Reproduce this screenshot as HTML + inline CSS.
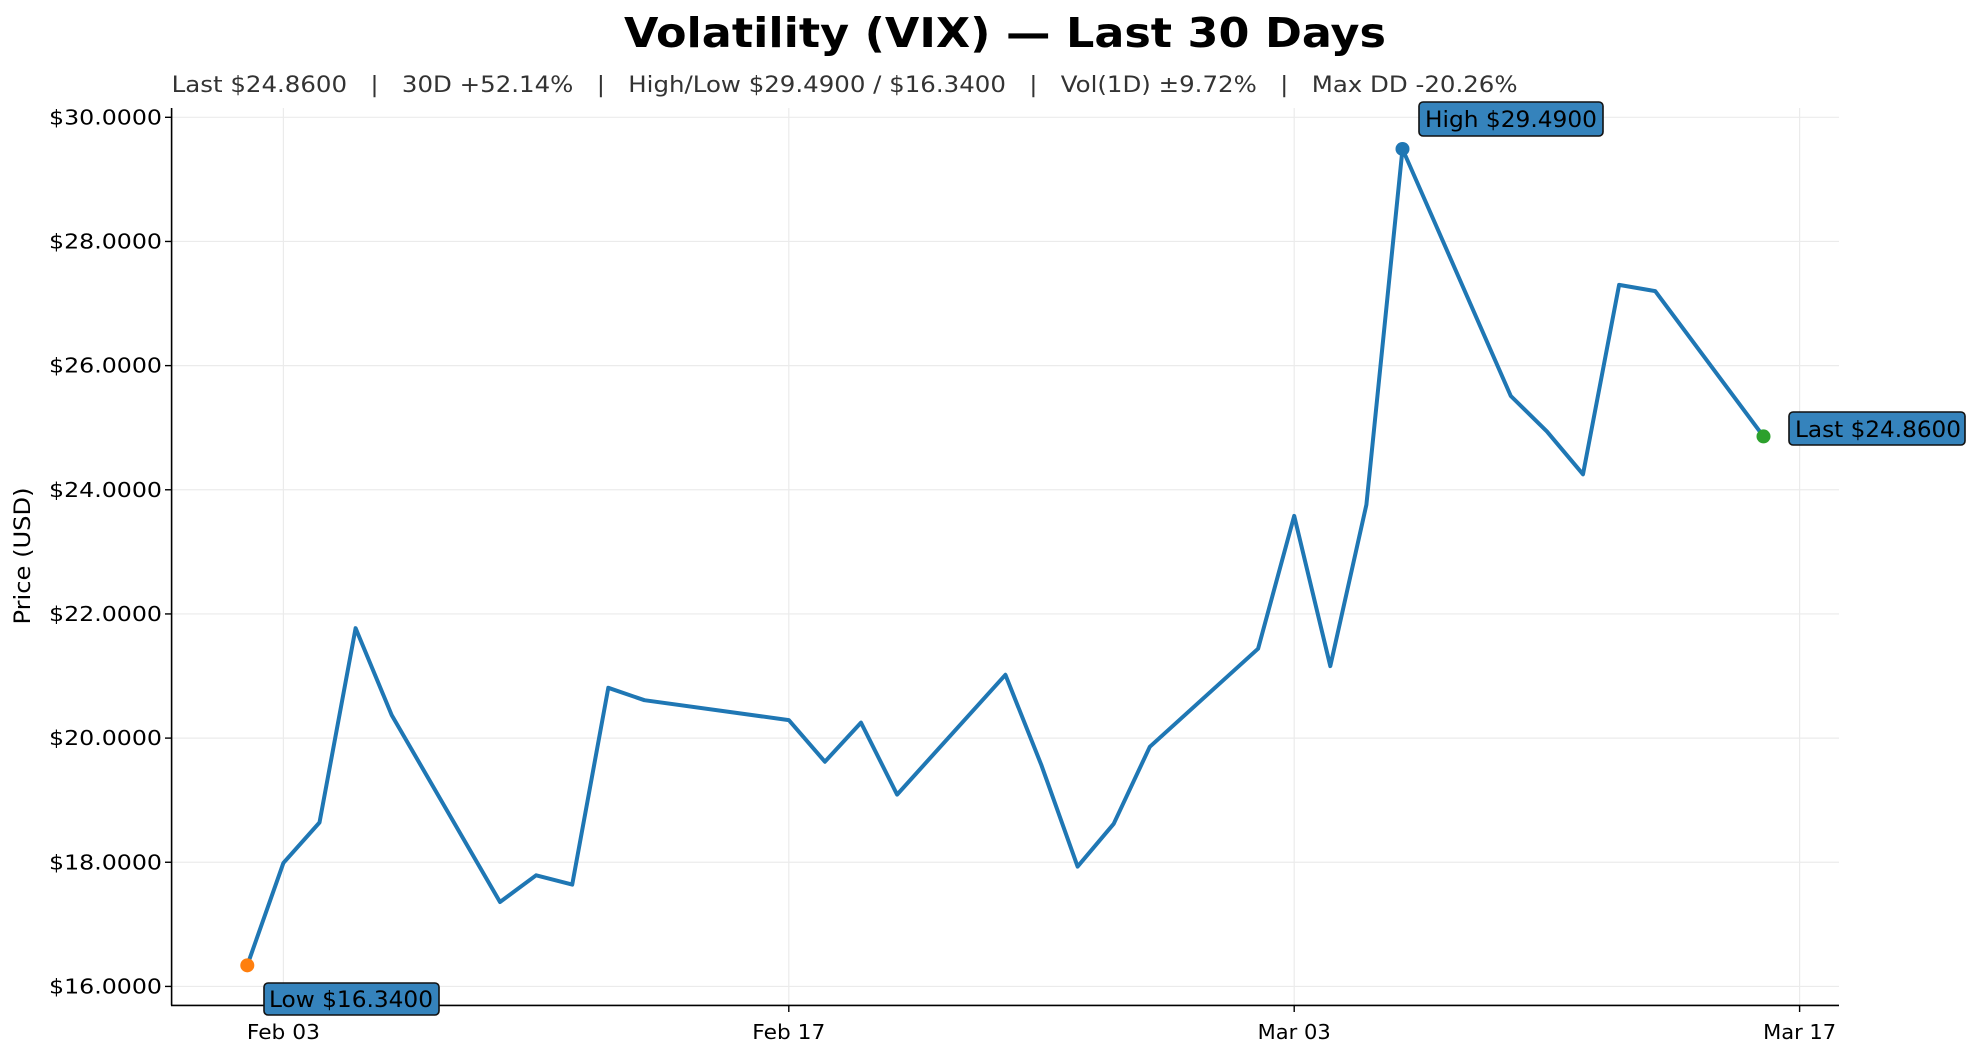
<!DOCTYPE html>
<html><head><meta charset="utf-8"><style>
html,body{margin:0;padding:0;background:#fff;}
svg{display:block;font-family:"DejaVu Sans","Liberation Sans",sans-serif;}
</style></head><body>
<svg id="s" width="1978" height="1059" viewBox="0 0 1978 1059" xmlns="http://www.w3.org/2000/svg">
<text x="1005" y="47" text-anchor="middle" font-size="41" font-weight="bold" fill="#000" textLength="762" lengthAdjust="spacingAndGlyphs">Volatility (VIX) — Last 30 Days</text>
<text x="171.6" y="92" font-size="22" fill="#333" xml:space="preserve" textLength="1346" lengthAdjust="spacingAndGlyphs">Last $24.8600   |   30D +52.14%   |   High/Low $29.4900 / $16.3400   |   Vol(1D) ±9.72%   |   Max DD -20.26%</text>
<g id="grid" stroke="#ebebeb" stroke-width="1.2"></g>
<g id="ticks"></g>
<polyline id="line" fill="none" stroke="#1f77b4" stroke-width="4" stroke-linejoin="round"/>
<line x1="171.6" y1="108" x2="171.6" y2="1005.4" stroke="#000" stroke-width="1.6"/>
<line x1="171" y1="1005.4" x2="1839" y2="1005.4" stroke="#000" stroke-width="1.6"/>
<text transform="translate(30,556) rotate(-90)" text-anchor="middle" font-size="22" fill="#000" textLength="137" lengthAdjust="spacingAndGlyphs">Price (USD)</text>
<g id="marks"></g>
<rect x="1419" y="102" width="184" height="34" rx="4" fill="#3583bc" stroke="#111" stroke-width="1.6"/>
<text x="1425" y="127" font-size="22" textLength="172" lengthAdjust="spacingAndGlyphs">High $29.4900</text>
<rect x="1789" y="412" width="176" height="33" rx="4" fill="#3583bc" stroke="#111" stroke-width="1.6"/>
<text x="1795" y="437" font-size="22" textLength="166" lengthAdjust="spacingAndGlyphs">Last $24.8600</text>
<rect x="264" y="983" width="175" height="32" rx="4" fill="#3583bc" stroke="#111" stroke-width="1.6"/>
<text x="269" y="1007" font-size="22" textLength="164" lengthAdjust="spacingAndGlyphs">Low $16.3400</text>
</svg>
<script>
var NS="http://www.w3.org/2000/svg";
function X(d){return 247.3+d*36.1;}
function Y(v){return 117.3+(30-v)*62.08;}
function el(t,a,p,txt){var e=document.createElementNS(NS,t);for(var k in a)e.setAttribute(k,a[k]);if(txt)e.textContent=txt;document.getElementById(p).appendChild(e);return e;}
for(var v=16;v<=30;v+=2){var y=Y(v);
el("line",{x1:171.6,x2:1839,y1:y,y2:y},"grid");
el("line",{x1:165,x2:171.6,y1:y,y2:y,stroke:"#000","stroke-width":1.4},"ticks");
el("text",{x:162,y:y+7,"text-anchor":"end","font-size":"20",textLength:"113",lengthAdjust:"spacingAndGlyphs"},"ticks","$"+v+".0000");}
var xt=[[1,"Feb 03"],[15,"Feb 17"],[29,"Mar 03"],[43,"Mar 17"]];
xt.forEach(function(t){var x=X(t[0]);
el("line",{x1:x,x2:x,y1:108,y2:1005.4},"grid");
el("line",{x1:x,x2:x,y1:1005.4,y2:1012,stroke:"#000","stroke-width":1.4},"ticks");
el("text",{x:x,y:1039,"text-anchor":"middle","font-size":"20",textLength:"73",lengthAdjust:"spacingAndGlyphs"},"ticks",t[1]);});
var d=[[0,16.34],[1,17.99],[2,18.64],[3,21.77],[4,20.37],[7,17.36],[8,17.79],[9,17.64],[10,20.81],[11,20.61],[15,20.29],[16,19.62],[17,20.25],[18,19.09],[21,21.02],[22,19.56],[23,17.93],[24,18.62],[25,19.86],[28,21.44],[29,23.58],[30,21.16],[31,23.76],[32,29.49],[35,25.51],[36,24.94],[37,24.25],[38,27.30],[39,27.20],[42,24.86]];
document.getElementById("line").setAttribute("points",d.map(function(p){return X(p[0]).toFixed(1)+","+Y(p[1]).toFixed(1);}).join(" "));
el("circle",{cx:X(32),cy:Y(29.49),r:7,fill:"#1f77b4"},"marks");
el("circle",{cx:X(0),cy:Y(16.34),r:7,fill:"#ff7f0e"},"marks");
el("circle",{cx:X(42),cy:Y(24.86),r:7,fill:"#2ca02c"},"marks");
</script>
</body></html>
